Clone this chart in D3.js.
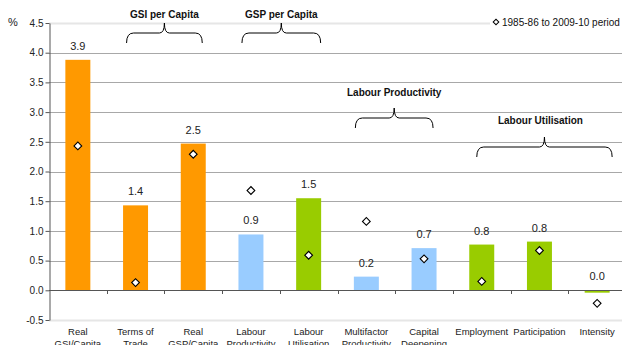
<!DOCTYPE html>
<html><head><meta charset="utf-8">
<script src="https://cdn.jsdelivr.net/npm/d3@7"></script>
<style>body{margin:0;background:#fff}svg{display:block;font-family:"Liberation Sans",Arial,sans-serif}</style>
</head><body><svg id="c" width="622" height="345"></svg>
<script>
const categories = ["Real GSI/Capita","Terms of Trade","Real GSP/Capita","Labour Productivity","Labour Utilisation","Multifactor Productivity","Capital Deepening","Employment","Participation","Intensity"];
const catLines = [["Real","GSI/Capita"],["Terms of","Trade"],["Real","GSP/Capita"],["Labour","Productivity"],["Labour","Utilisation"],["Multifactor","Productivity"],["Capital","Deepening"],["Employment"],["Participation"],["Intensity"]];
const barValues = [3.88,1.43,2.47,0.94,1.55,0.23,0.71,0.77,0.82,-0.04];
const barLabels = ["3.9","1.4","2.5","0.9","1.5","0.2","0.7","0.8","0.8","0.0"];
const barGroup = ["gsi","gsi","gsp","prod","util","prod","prod","util","util","util"];
const periodValues = [2.43,0.13,2.29,1.68,0.59,1.16,0.53,0.15,0.67,-0.22];
const yTicks = [-0.5,0,0.5,1,1.5,2,2.5,3,3.5,4,4.5];
const yTickLabels = ["-0.5","0.0","0.5","1.0","1.5","2.0","2.5","3.0","3.5","4.0","4.5"];
const groupNames = ["GSI per Capita","GSP per Capita","Labour Productivity","Labour Utilisation"];
const groupFrom = [1,3,5,7];
const groupTo = [2,4,6,9];
const legendLabel = "1985-86 to 2009-10 period";

const colors = {gsi:"#FF9900",gsp:"#FF9900",prod:"#99CCFF",util:"#99CC00"};
const svg = d3.select("#c");
const x = d3.scaleBand().domain(categories).range([49,626]).paddingInner(0.567).paddingOuter(0.2835);
const y = d3.scaleLinear().domain([-0.5,4.5]).range([320,23]);

// gridlines
svg.append("g").selectAll("line").data(yTicks).join("line")
  .attr("x1",49).attr("x2",626)
  .attr("y1",d=>Math.round(y(d))+0.5).attr("y2",d=>Math.round(y(d))+0.5)
  .attr("stroke",d=>(d===4.5||d===-0.5)?"#e6e6e6":"#a8a8a8").attr("stroke-width",d=>(d===4.5||d===-0.5)?2:1)
  .attr("display",d=>d===0?"none":null);

// bars
svg.append("g").selectAll("rect").data(barValues).join("rect")
  .attr("x",(d,i)=>x(categories[i])).attr("width",x.bandwidth())
  .attr("y",d=>y(Math.max(0,d))).attr("height",d=>Math.abs(y(d)-y(0)))
  .attr("fill",(d,i)=>colors[barGroup[i]]);

// zero line + ticks
const step = x.step();
svg.append("line").attr("x1",49).attr("x2",626).attr("y1",Math.round(y(0))+0.5).attr("y2",Math.round(y(0))+0.5).attr("stroke","#555");
svg.append("g").selectAll("line").data(categories.slice(1)).join("line")
  .attr("x1",d=>Math.round(x(d)-step*0.2835)+0.5).attr("x2",d=>Math.round(x(d)-step*0.2835)+0.5)
  .attr("y1",Math.round(y(0))).attr("y2",Math.round(y(0))+4).attr("stroke","#555");

// y axis
const yAxis = d3.axisLeft(y).tickValues(yTicks).tickFormat((d,i)=>yTickLabels[i]).tickSize(4).tickSizeOuter(0);
const ga = svg.append("g").attr("transform","translate(49.5,0)").call(yAxis);
ga.select(".domain").attr("stroke","#555");
ga.selectAll(".tick line").attr("stroke","#555");
ga.selectAll(".tick text").attr("font-size",10).attr("fill","#222").attr("font-family","Liberation Sans, Arial").attr("x",-6);
svg.append("text").attr("x",8).attr("y",26).attr("font-size",11).attr("fill","#222").text("%");

// value labels
svg.append("g").selectAll("text").data(barLabels).join("text")
  .attr("x",(d,i)=>x(categories[i])+x.bandwidth()/2)
  .attr("y",(d,i)=>y(Math.max(0,barValues[i]))-10)
  .attr("text-anchor","middle").attr("font-size",11).attr("fill","#222").text(d=>d);

// diamonds
svg.append("g").selectAll("path").data(periodValues).join("path")
  .attr("transform",(d,i)=>`translate(${x(categories[i])+x.bandwidth()/2},${y(d)}) rotate(45)`)
  .attr("d",d3.symbol().type(d3.symbolSquare).size(30))
  .attr("fill","#fff").attr("stroke","#000").attr("stroke-width",1.1);

// category labels
const cl = svg.append("g").selectAll("text").data(catLines).join("text")
  .attr("x",(d,i)=>x(categories[i])+x.bandwidth()/2).attr("text-anchor","middle")
  .attr("font-size",9.5).attr("fill","#222");
cl.selectAll("tspan").data(d=>d).join("tspan")
  .attr("x",function(){return this.parentNode.getAttribute("x");})
  .attr("y",(d,j)=>335+j*12).text(d=>d);

// braces
const braceTips = [23,23,108,137];
const labelY = [18,18,96,124];
const braceLeftPad = [9,9,11,5];
const braceRightPad = [9,12,9,15];
function brace(x1,x2,yt){
  const xm=(x1+x2)/2, ym=yt+10, yb=yt+20, r=7;
  return `M${x1},${yb} Q${x1},${ym} ${x1+r},${ym} L${xm-5},${ym} Q${xm},${ym} ${xm},${yt} Q${xm},${ym} ${xm+5},${ym} L${x2-r},${ym} Q${x2},${ym} ${x2},${yb}`;
}
groupNames.forEach((g,k)=>{
  const x1 = x(categories[groupFrom[k]])+x.bandwidth()/2-braceLeftPad[k];
  const x2 = x(categories[groupTo[k]])+x.bandwidth()/2+braceRightPad[k];
  svg.append("path").attr("d",brace(x1,x2,braceTips[k])).attr("fill","none").attr("stroke","#000").attr("stroke-width",1);
  svg.append("text").attr("x",(x1+x2)/2 - (k===3?4:0)).attr("y",labelY[k]).attr("text-anchor","middle")
    .attr("font-size",10).attr("font-weight","bold").attr("fill","#111").text(g);
});

// legend
const lg = svg.append("g");
lg.append("rect").attr("x",490).attr("y",12).attr("width",132).attr("height",20).attr("fill","#fff");
lg.append("path").attr("transform","translate(496,22) rotate(45)").attr("d",d3.symbol().type(d3.symbolSquare).size(16)).attr("fill","#fff").attr("stroke","#000");
lg.append("text").attr("x",502).attr("y",25.5).attr("font-size",10).attr("fill","#111").text(legendLabel);
</script></body></html>
